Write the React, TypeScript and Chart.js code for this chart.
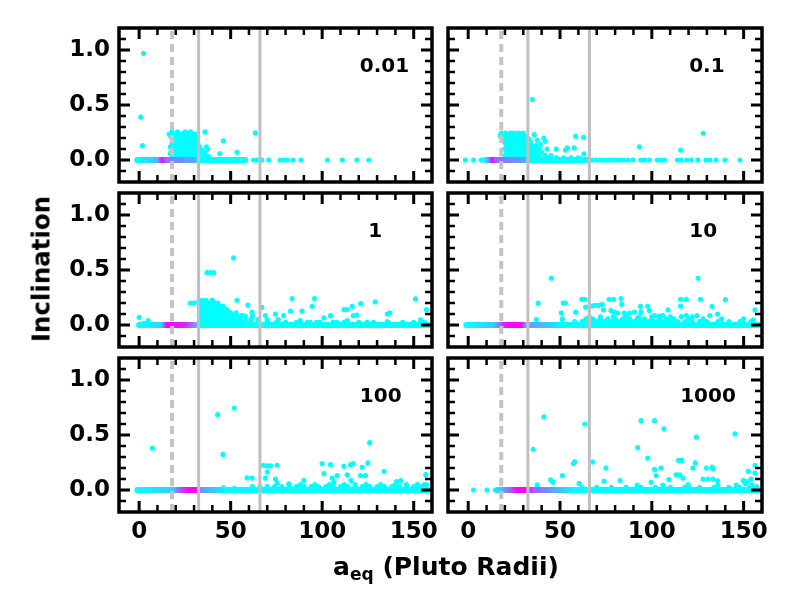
import { useEffect, useRef } from "react";
import { Chart, registerables } from "chart.js";

Chart.register(...registerables);

type Pt = [number, number];
type Row = [number, number[]];

const CYAN = "#00ffff";
const GRAY = "#bfbfbf";
const FONT = "'DejaVu Sans', sans-serif";

// one panel per value
const panelLabels = ["0.01", "0.1", "1", "10", "100", "1000"];
const labelX = [134, 130, 129, 128, 132, 130.6];
const labelY = 0.85;

// dashed line first, then the two solid ones
const guideLines = [18, 32.5, 66];

const xTicks = [0, 50, 100, 150];
const xMinorTicks = [10, 20, 30, 40, 60, 70, 80, 90, 110, 120, 130, 140];
const yTicks = [0, 0.5, 1.0];
const yMinorTicks = [-0.1, 0.1, 0.2, 0.3, 0.4, 0.6, 0.7, 0.8, 0.9, 1.1];

// dense strip of particles at zero inclination, coloured along a
const bandRange: Pt[] = [
  [-1, 58],
  [9, 65],
  [0, 158],
  [-1, 158],
  [-1, 158],
  [16, 158],
];
const bandStops: [number, string][][] = [
  [[-1, "#00ffff"], [10, "#40bfff"], [12.5, "#ff00ff"], [15, "#8877ff"], [30, "#55aaff"], [33, "#00ffff"]],
  [[9, "#00ffff"], [11, "#60a0ff"], [13, "#ff00ff"], [15, "#9966ff"], [31, "#55aaff"], [33, "#00ffff"]],
  [[0, "#00ffff"], [12, "#20e0ff"], [15, "#ff00ff"], [25, "#dd22ff"], [31, "#7799ff"], [33, "#00ffff"]],
  [[-1, "#00ffff"], [14, "#33ccff"], [21, "#ff00ff"], [29, "#ff00ff"], [31, "#6699ff"], [45, "#33ccff"], [50, "#00ffff"]],
  [[-1, "#00ffff"], [18, "#33ccff"], [24, "#cc33ff"], [27, "#ff00ff"], [31, "#ff00ff"], [34, "#6699ff"], [44, "#22ddff"], [48, "#00ffff"]],
  [[16, "#22ddff"], [22, "#8877ff"], [27, "#ff00ff"], [31, "#ff00ff"], [36, "#9966ff"], [50, "#44bbff"], [58, "#00ffff"]],
];

const scatter001: Pt[] = [
  [2.4, 0.97], [0.9, 0.39], [1.8, 0.13], [36, 0.255], [46, 0.175], [36.7, 0.12],
  [37.4, 0.1], [44, 0.058], [53.5, 0.07], [63.5, 0.246], [33.5, 0.06], [35, 0.04],
  [62.6, 0], [64.5, 0], [67, 0], [70.8, 0], [77, 0], [79, 0], [81, 0], [84, 0],
  [88.4, 0], [102.9, 0], [111, 0], [119, 0], [125.5, 0],
];
const blob001: Row[] = [
  [0.255, [18, 21, 25, 28]],
  [0.235, [16.5, 19, 22, 23.5, 26, 29.5, 31]],
  [0.21, [17.5, 20, 22, 24, 26, 28, 30, 32]],
  [0.18, [19, 21, 23, 25, 27, 29, 31]],
  [0.15, [18, 20, 22, 24, 26, 28, 30, 32]],
  [0.12, [17, 19, 21, 23, 25, 27, 29, 31, 33]],
  [0.09, [18, 20, 22, 24, 26, 28, 30, 32, 34.5]],
  [0.06, [17, 19, 21, 23, 25, 27, 29, 31, 33, 36]],
  [0.03, [18, 20, 22, 24, 26, 28, 30, 32, 35, 38]],
];

const scatter01: Pt[] = [
  [34.9, 0.55], [36, 0.23], [37.6, 0.18], [41.2, 0.2], [42, 0.17], [39.4, 0.14],
  [43, 0.1], [48, 0.1], [53, 0.09], [54, 0.11], [57.7, 0.11], [58.6, 0.215],
  [62.8, 0.206], [63, 0.055], [93.2, 0.12], [115.7, 0.09], [128, 0.243], [19.7, 0.1],
  [-1.6, 0], [2.9, 0], [7, 0],
  [67.5, 0], [70, 0], [72, 0], [74, 0], [76, 0], [78, 0], [80, 0], [82, 0], [84.5, 0],
  [87, 0], [89.6, 0], [94, 0], [96, 0], [98.7, 0], [103, 0], [105, 0], [107, 0],
  [114, 0], [116, 0], [119, 0], [121.5, 0], [125, 0], [129.5, 0], [131.6, 0],
  [135, 0], [139.8, 0], [148, 0],
];
const blob01: Row[] = [
  [0.245, [18, 20.5, 23, 25, 27.5, 30]],
  [0.22, [17.5, 19, 21, 23, 25, 27, 29, 31]],
  [0.19, [19, 21, 23, 25, 27, 29, 31, 33]],
  [0.16, [20, 22, 24, 26, 28, 30, 32, 34]],
  [0.13, [21, 23, 25, 27, 29, 31, 33, 35, 37]],
  [0.1, [22, 24, 26, 28, 30, 32, 34, 36, 38.5]],
  [0.07, [21, 23, 25, 27, 29, 31, 33, 35, 37, 40]],
  [0.04, [20, 22, 24, 26, 28, 30, 32, 34, 36, 38, 42, 45]],
  [0.02, [23, 27, 31, 35, 39, 44, 48, 52, 56, 60]],
];

const scatter1: Pt[] = [
  [0, 0.07], [2.5, 0.015], [5, 0.04], [4, 0.01], [51.6, 0.61], [37, 0.477],
  [38.8, 0.477], [40.7, 0.477], [28, 0.2], [30, 0.2], [32.5, 0.21], [39.8, 0.225],
  [53.5, 0.225], [59.5, 0.18], [67, 0.16], [61.7, 0.117], [56, 0.086], [58, 0.08],
  [69, 0.086], [74.5, 0.1], [79, 0.086], [83.6, 0.24], [82.7, 0.126], [89, 0.126],
  [88, 0.04], [94.5, 0.17], [95.8, 0.24], [101, 0.065], [104.6, 0.086], [111.9, 0.14],
  [113.7, 0.14], [116.4, 0.17], [117, 0.086], [119, 0.09], [121, 0.194], [129, 0.21],
  [135.6, 0.1], [137, 0.11], [151, 0.237], [153.8, 0.046], [157, 0.14], [93.5, 0.025],
  [97, 0.025], [108, 0.025], [113.7, 0.04], [124.6, 0.025], [135.6, 0.03],
];
const blob1: Row[] = [
  [0.225, [34, 36.5, 40]],
  [0.2, [33, 35, 37, 39, 41, 43]],
  [0.17, [34, 36, 38, 40, 42, 44, 46]],
  [0.14, [33, 35, 37, 39, 41, 43, 45, 48]],
  [0.11, [34, 36, 38, 40, 42, 44, 46, 48, 50, 53]],
  [0.08, [33, 35, 37, 39, 41, 43, 45, 47, 49, 51, 54, 57, 62]],
  [0.05, [34, 36, 38, 40, 42, 44, 46, 48, 50, 52, 55, 58, 61, 65, 70, 76]],
  [0.025, [33, 37, 41, 45, 49, 53, 57, 61, 65, 70, 75, 80, 86, 92, 99, 106, 112, 120, 128, 136, 144, 150, 156]],
];

const scatter10: Pt[] = [
  [45.3, 0.425], [38.1, 0.2], [51.8, 0.2], [52.9, 0.2], [50.7, 0.11], [58.6, 0.117],
  [61.9, 0.234], [63.5, 0.234], [64, 0.163], [67.2, 0.172], [69, 0.178], [70.8, 0.178],
  [73, 0.188], [73.7, 0.138], [76.8, 0.234], [79.2, 0.234], [83.2, 0.24], [83.6, 0.188],
  [77.7, 0.132], [79.6, 0.117], [81.4, 0.108], [85, 0.108], [87.8, 0.108], [90.5, 0.117],
  [93.8, 0.17], [94.2, 0.117], [97.8, 0.17], [98.7, 0.132], [101.5, 0.086], [104.2, 0.08],
  [106, 0.086], [108.8, 0.138], [115.7, 0.234], [118.8, 0.234], [115.7, 0.172], [116, 0.077],
  [118.8, 0.086], [125.2, 0.425], [126.5, 0.234], [124.6, 0.086], [131.6, 0.086], [132.8, 0.17],
  [135.8, 0.1], [140.1, 0.23], [156.2, 0.138], [155.3, 0.046], [37.2, 0.05], [51.3, 0.055],
];
const blob10: Row[] = [
  [0.075, [66, 72, 79, 86, 93, 100, 110, 122]],
  [0.055, [64, 68, 72, 76, 80, 84, 88, 92, 96, 100, 104, 108, 112, 120, 128, 138, 150]],
  [0.03, [58, 62, 66, 70, 74, 78, 82, 86, 90, 94, 98, 102, 106, 110, 114, 118, 122, 126, 130, 136, 142, 148, 154]],
];

const scatter100: Pt[] = [
  [7.3, 0.38], [42.9, 0.686], [52, 0.745], [45.8, 0.323], [59, 0.11], [61.7, 0.108],
  [68, 0.225], [70, 0.22], [71.7, 0.22], [75.4, 0.225], [70, 0.163], [69, 0.108],
  [74.5, 0.1], [75.4, 0.065], [81.8, 0.055], [90, 0.086], [100, 0.24], [104.6, 0.23],
  [101, 0.148], [105.5, 0.108], [106.4, 0.07], [108.2, 0.13], [111.9, 0.215], [115.5, 0.23],
  [117, 0.24], [113.7, 0.138], [115.8, 0.086], [121, 0.132], [121.9, 0.206], [123.7, 0.132],
  [125, 0.246], [126, 0.43], [133.8, 0.17], [140.7, 0.077], [143, 0.086], [156.6, 0.14],
  [155.7, 0.046], [46, 0.02], [52, 0.015],
];
const blob100: Row[] = [
  [0.05, [88, 96, 104, 112, 118, 124, 132, 140, 146, 152, 157]],
  [0.03, [62, 66, 70, 74, 78, 82, 86, 90, 94, 98, 102, 106, 110, 114, 118, 122, 126, 130, 134, 138, 142, 146, 150, 154]],
];

const scatter1000: Pt[] = [
  [2.9, 0], [10.2, 0], [14.8, 0], [35.4, 0.37], [41.2, 0.665], [37.6, 0.046],
  [44.9, 0.092], [46.2, 0.07], [51.3, 0.132], [57.3, 0.24], [58, 0.255], [60.4, 0.06],
  [63.5, 0.6], [67.7, 0.255], [74, 0.08], [75, 0.2], [82.7, 0.086], [92.3, 0.385],
  [94.2, 0.63], [97.8, 0.29], [101.5, 0.63], [101.5, 0.188], [102.4, 0.132], [105, 0.2],
  [106.6, 0.557], [99.6, 0.07], [109.3, 0.095], [113.3, 0.138], [115.1, 0.138], [114.6, 0.27],
  [116.4, 0.27], [117, 0.108], [119.7, 0.046], [122.4, 0.2], [123.7, 0.246], [124.3, 0.48],
  [127.9, 0.1], [130.7, 0.1], [133.4, 0.1], [135.8, 0.083], [129.7, 0.2], [132.8, 0.209],
  [133.4, 0.194], [145.3, 0.51], [152.6, 0.17], [149.8, 0.086], [151.6, 0.077], [156.2, 0.225],
  [156.2, 0.154], [154.4, 0.046], [154, 0.1], [151, 0.06], [157, 0.03],
];
const blob1000: Row[] = [
  [0.045, [92, 106, 120, 136, 146]],
  [0.025, [62, 70, 78, 86, 94, 102, 110, 118, 126, 134, 142, 148, 153, 157]],
];

const panelScatter = [scatter001, scatter01, scatter1, scatter10, scatter100, scatter1000];
const panelBlobs = [blob001, blob01, blob1, blob10, blob100, blob1000];

// frame boxes in page pixels
const colX: Pt[] = [[119, 432], [448, 762]];
const rowY: Pt[] = [[28, 182], [193, 347], [358, 512]];
const LEFT = 80;
const PAD = 6;
const BOTTOM = 46;

const framePlugin = {
  id: "frame",
  afterDatasetsDraw(chart: any, _args: any, opts: any) {
    const { ctx, chartArea: a, scales } = chart;
    const sx = scales.x;
    const sy = scales.y;
    ctx.save();
    ctx.strokeStyle = "#000";
    const xt = (vals: number[], len: number, w: number) => {
      ctx.lineWidth = w;
      ctx.beginPath();
      vals.forEach((v) => {
        const p = sx.getPixelForValue(v);
        ctx.moveTo(p, a.bottom);
        ctx.lineTo(p, a.bottom - len);
        ctx.moveTo(p, a.top);
        ctx.lineTo(p, a.top + len);
      });
      ctx.stroke();
    };
    const yt = (vals: number[], len: number, w: number) => {
      ctx.lineWidth = w;
      ctx.beginPath();
      vals.forEach((v) => {
        const p = sy.getPixelForValue(v);
        ctx.moveTo(a.left, p);
        ctx.lineTo(a.left + len, p);
        ctx.moveTo(a.right, p);
        ctx.lineTo(a.right - len, p);
      });
      ctx.stroke();
    };
    xt(xTicks, 11, 3);
    xt(xMinorTicks, 7, 2.5);
    yt(yTicks, 11, 3);
    yt(yMinorTicks, 7, 2.5);
    ctx.lineWidth = 3.5;
    ctx.strokeRect(a.left, a.top, a.right - a.left, a.bottom - a.top);
    ctx.fillStyle = "#000";
    ctx.font = `bold 20px ${FONT}`;
    ctx.textAlign = "center";
    ctx.textBaseline = "middle";
    ctx.fillText(opts.label, sx.getPixelForValue(opts.lx), sy.getPixelForValue(labelY));
    ctx.restore();
  },
};

const noPadding = (s: any) => {
  s.paddingLeft = 0;
  s.paddingRight = 0;
  s.paddingTop = 0;
  s.paddingBottom = 0;
};

function Panel({ index }: { index: number }) {
  const canvasRef = useRef<HTMLCanvasElement>(null);
  const col = index % 2;
  const row = Math.floor(index / 2);
  const [x0, x1] = colX[col];
  const [y0, y1] = rowY[row];

  useEffect(() => {
    if (!canvasRef.current) return;
    const points = [
      ...panelScatter[index],
      ...panelBlobs[index].flatMap(([y, xs]) => xs.map((x) => [x, y] as Pt)),
    ];
    const stops = bandStops[index];
    const [b0, b1] = bandRange[index];

    const chart = new Chart(canvasRef.current, {
      type: "scatter",
      data: {
        datasets: [
          ...guideLines.map((g, k) => ({
            data: [{ x: g, y: -0.2 }, { x: g, y: 1.2 }],
            showLine: true,
            borderColor: k === 0 ? "#c4c4c4" : GRAY,
            borderWidth: k === 0 ? 4 : 3,
            borderDash: k === 0 ? [8, 5] : [],
            pointRadius: 0,
            order: 0,
          })),
          {
            data: [{ x: b0, y: 0 }, { x: b1, y: 0 }],
            showLine: true,
            borderWidth: 6,
            borderCapStyle: "round",
            pointRadius: 0,
            order: 1,
            borderColor: (c: any) => {
              const ch = c.chart;
              if (!ch.chartArea) return CYAN;
              const s = ch.scales.x;
              const p0 = s.getPixelForValue(stops[0][0]);
              const p1 = s.getPixelForValue(stops[stops.length - 1][0]);
              const grad = ch.ctx.createLinearGradient(p0, 0, p1, 0);
              stops.forEach(([v, color]) =>
                grad.addColorStop((s.getPixelForValue(v) - p0) / (p1 - p0), color),
              );
              return grad;
            },
          },
          {
            data: points.map(([x, y]) => ({ x, y })),
            pointRadius: 2.6,
            pointBackgroundColor: CYAN,
            pointBorderWidth: 0,
            order: 2,
          },
        ] as any,
      },
      options: {
        animation: false,
        responsive: true,
        maintainAspectRatio: false,
        events: [],
        layout: { padding: { top: PAD, right: PAD, left: 0, bottom: 0 } },
        plugins: {
          legend: { display: false },
          tooltip: { enabled: false },
          frame: { label: panelLabels[index], lx: labelX[index] },
        } as any,
        scales: {
          x: {
            type: "linear",
            min: -11,
            max: 160,
            grid: { display: false, drawTicks: false },
            border: { display: false },
            afterBuildTicks: (s: any) => {
              s.ticks = xTicks.map((v) => ({ value: v }));
            },
            afterFit: (s: any) => {
              s.height = BOTTOM;
              noPadding(s);
            },
            ticks: {
              display: row === 2,
              padding: 6,
              maxRotation: 0,
              autoSkip: false,
              color: "#000",
              font: { family: FONT, size: 23, weight: "bold" },
              callback: (v: any) => String(v),
            },
          },
          y: {
            type: "linear",
            min: -0.2,
            max: 1.2,
            grid: { display: false, drawTicks: false },
            border: { display: false },
            afterBuildTicks: (s: any) => {
              s.ticks = yTicks.map((v) => ({ value: v }));
            },
            afterFit: (s: any) => {
              s.width = LEFT;
              noPadding(s);
            },
            ticks: {
              display: col === 0,
              padding: 9,
              color: "#000",
              font: { family: FONT, size: 23, weight: "bold" },
              callback: (v: any) => Number(v).toFixed(1),
            },
          },
        },
      },
      plugins: [framePlugin as any],
    });

    return () => chart.destroy();
  }, [index]);

  return (
    <div
      style={{
        position: "absolute",
        left: x0 - LEFT,
        top: y0 - PAD,
        width: x1 - x0 + LEFT + PAD,
        height: y1 - y0 + PAD + BOTTOM,
      }}
    >
      <canvas ref={canvasRef} />
    </div>
  );
}

export default function App() {
  return (
    <div
      style={{
        position: "fixed",
        left: 0,
        top: 0,
        width: 800,
        height: 600,
        background: "#fff",
        fontFamily: FONT,
        fontWeight: "bold",
        color: "#000",
      }}
    >
      {panelLabels.map((_, i) => (
        <Panel key={i} index={i} />
      ))}
      <div
        style={{
          position: "absolute",
          left: 446,
          top: 554,
          transform: "translateX(-50%)",
          fontSize: 25,
          lineHeight: "25px",
          whiteSpace: "nowrap",
        }}
      >
        a
        <span style={{ fontSize: 17, position: "relative", top: 5 }}>eq</span> (Pluto Radii)
      </div>
      <div
        style={{
          position: "absolute",
          left: 41,
          top: 269,
          transform: "translate(-50%, -50%) rotate(-90deg)",
          fontSize: 24.5,
          lineHeight: "25px",
          whiteSpace: "nowrap",
        }}
      >
        Inclination
      </div>
    </div>
  );
}
